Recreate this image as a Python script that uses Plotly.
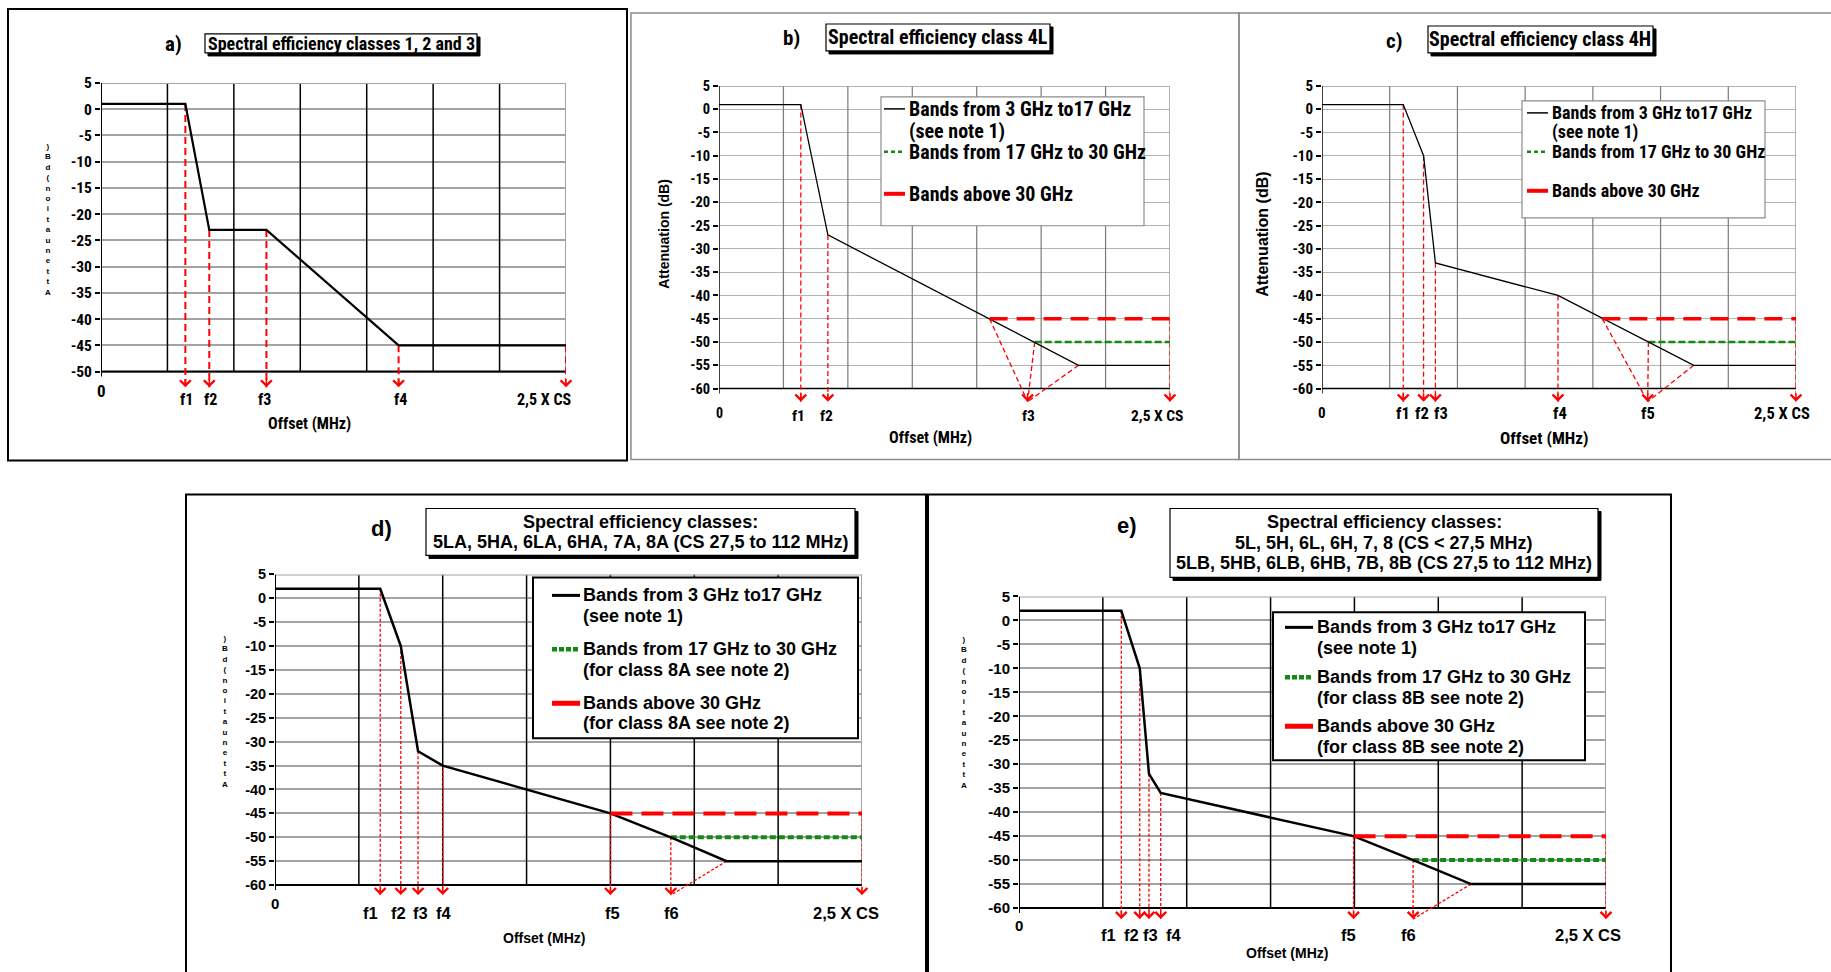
import plotly.graph_objects as go

W, H = 1831, 972
NARROW = "Roboto Condensed, Liberation Sans, sans-serif"
REG = "Liberation Sans, Arial, sans-serif"

# ------------------------------------------------------------------ data
# a) Spectral efficiency classes 1, 2 and 3
a_mask_x = [0, 1.27, 1.63, 2.49, 4.48, 7]
a_mask_y = [1, 1, -23, -23, -45, -45]
a_arrow_x = [1.27, 1.63, 2.49, 4.48, 7]
a_arrow_y = [1, -23, -23, -45, -45]
a_labels = ["f1", "f2", "f3", "f4", "2,5 X CS"]
a_label_x = [1.29, 1.65, 2.46, 4.51, 6.68]
a_yticks = [5, 0, -5, -10, -15, -20, -25, -30, -35, -40, -45, -50]

# b) class 4L
b_mask_x = [0, 1.27, 1.69, 5.58, 7]
b_mask_y = [1, 1, -27, -55, -55]
b_red_x, b_red_y = [4.2, 7], [-45, -45]
b_green_x, b_green_y = [4.9, 7], [-50, -50]
b_arrow_x = [1.27, 1.69, 7]
b_arrow_y = [1, -27, -45]
b_conv_x, b_conv_y, b_conv_tip = [4.2, 4.9, 5.58], [-45, -50, -55], 4.79
b_labels = ["f1", "f2", "f3", "2,5 X CS"]
b_label_x = [1.23, 1.67, 4.81, 6.8]

# c) class 4H
c_mask_x = [0, 1.2, 1.5, 1.675, 3.485, 5.49, 7]
c_mask_y = [1, 1, -10, -33, -40, -55, -55]
c_red_x, c_red_y = [4.14, 7], [-45, -45]
c_green_x, c_green_y = [4.82, 7], [-50, -50]
c_arrow_x = [1.2, 1.5, 1.675, 3.485, 7]
c_arrow_y = [1, -10, -33, -40, -45]
c_conv_x, c_conv_y, c_conv_tip = [4.14, 4.82, 5.49], [-45, -50, -55], 4.81
c_labels = ["f1", "f2", "f3", "f4", "f5", "2,5 X CS"]
c_label_x = [1.19, 1.47, 1.75, 3.51, 4.81, 6.8]

# d) 5LA, 5HA, 6LA, 6HA, 7A, 8A
d_mask_x = [0, 1.255, 1.5, 1.706, 2.0, 4.0, 4.72, 5.385, 7]
d_mask_y = [2, 2, -10, -32, -35, -45, -50, -55, -55]
d_red_x, d_red_y = [4.0, 7], [-45, -45]
d_green_x, d_green_y = [4.72, 7], [-50, -50]
d_arrow_x = [1.255, 1.5, 1.706, 2.0, 4.0, 4.72, 7]
d_arrow_y = [2, -10, -32, -35, -45, -50, -45]
d_conv_x, d_conv_y, d_conv_tip = [5.385], [-55], 4.72
d_labels = ["f1", "f2", "f3", "f4", "f5", "f6", "2,5 X CS"]
d_label_x = [1.14, 1.47, 1.74, 2.01, 4.02, 4.73, 6.81]

# e) 5L ... 8 / 5LB ... 8B
e_mask_x = [0, 1.22, 1.44, 1.55, 1.69, 3.99, 4.70, 5.39, 7]
e_mask_y = [2, 2, -10, -32, -36, -45, -50, -55, -55]
e_red_x, e_red_y = [3.99, 7], [-45, -45]
e_green_x, e_green_y = [4.70, 7], [-50, -50]
e_arrow_x = [1.22, 1.44, 1.55, 1.69, 3.99, 4.70, 7]
e_arrow_y = [2, -10, -32, -36, -45, -50, -45]
e_conv_x, e_conv_y, e_conv_tip = [5.39], [-55], 4.70
e_labels = ["f1", "f2", "f3", "f4", "f5", "f6", "2,5 X CS"]
e_label_x = [1.07, 1.34, 1.57, 1.84, 3.93, 4.64, 6.79]

yticks_60 = [5, 0, -5, -10, -15, -20, -25, -30, -35, -40, -45, -50, -55, -60]

leg_bc = [["Bands from 3 GHz to17 GHz", "(see note 1)"],
          ["Bands from 17 GHz to 30 GHz"],
          ["Bands above 30 GHz"]]
leg_d = [["Bands from 3 GHz to17 GHz", "(see note 1)"],
         ["Bands from 17 GHz to 30 GHz", "(for class 8A see note 2)"],
         ["Bands above 30 GHz", "(for class 8A see note 2)"]]
leg_e = [["Bands from 3 GHz to17 GHz", "(see note 1)"],
         ["Bands from 17 GHz to 30 GHz", "(for class 8B see note 2)"],
         ["Bands above 30 GHz", "(for class 8B see note 2)"]]

YTITLE = "Attenuation (dB)"
XTITLE = "Offset (MHz)"

# ------------------------------------------------------------------ layout helpers
# the photographed page is offset/squeezed vertically by a few pixels: compensate
OFF, SC = 8.0, 972.0 / 964.0


def PY(y):
    return 1 - (y - OFF) * SC / H


def PX(x):
    return x / W


thin = dict(vgrid="#7a7a7a", vgw=1.2, hgrid="#b4b4b4", hgw=1.2, frame="#9a9a9a", fw=1.5,
            spine=1.5, mask=1.3, arr_w=1.3, arr_dash="5px,3px",
            red_w=3.5, red_dash="18px,9px", green_w=2.5, green_dash="7px,3px")
thick = dict(vgrid="black", vgw=1.5, hgrid="#a3a3a3", hgw=2, frame="#a3a3a3", fw=2,
             spine=2, mask=2.5, arr_w=1.3, arr_dash="3px,2px",
             red_w=4, red_dash="22px,9px", green_w=4, green_dash="6px,3px")
style_a = dict(thick, mask=2.2, arr_w=2, arr_dash="7px,4px")

panels = [
    dict(mask=(a_mask_x, a_mask_y), red=None, green=None,
         arrows=(a_arrow_x, a_arrow_y), conv=None,
         labels=(a_labels, a_label_x), yticks=a_yticks, ymin=-50, tip=-53.0,
         geo=dict(l=101, r=566, top=82, bot=371), st=style_a,
         tickfont=(NARROW, 15.5), zerofont=(NARROW, 17), lblfont=(NARROW, 16),
         zero_y=390, lbl_y=399, xt=(309, 423, NARROW, 16)),
    dict(mask=(b_mask_x, b_mask_y), red=(b_red_x, b_red_y), green=(b_green_x, b_green_y),
         arrows=(b_arrow_x, b_arrow_y), conv=(b_conv_x, b_conv_y, b_conv_tip),
         labels=(b_labels, b_label_x), yticks=yticks_60, ymin=-60, tip=-62.8,
         geo=dict(l=719, r=1170, top=85, bot=388), st=thin,
         tickfont=(NARROW, 14.5), zerofont=(NARROW, 14), lblfont=(NARROW, 15.5),
         zero_y=412, lbl_y=415, xt=(930, 437, NARROW, 16)),
    dict(mask=(c_mask_x, c_mask_y), red=(c_red_x, c_red_y), green=(c_green_x, c_green_y),
         arrows=(c_arrow_x, c_arrow_y), conv=(c_conv_x, c_conv_y, c_conv_tip),
         labels=(c_labels, c_label_x), yticks=yticks_60, ymin=-60, tip=-62.8,
         geo=dict(l=1322, r=1796, top=85, bot=388), st=thin,
         tickfont=(NARROW, 15), zerofont=(NARROW, 15), lblfont=(NARROW, 16.5),
         zero_y=412, lbl_y=413, xt=(1544, 437, NARROW, 17)),
    dict(mask=(d_mask_x, d_mask_y), red=(d_red_x, d_red_y), green=(d_green_x, d_green_y),
         arrows=(d_arrow_x, d_arrow_y), conv=(d_conv_x, d_conv_y, d_conv_tip),
         labels=(d_labels, d_label_x), yticks=yticks_60, ymin=-60, tip=-62.1,
         geo=dict(l=275, r=862, top=574, bot=885), st=thick,
         tickfont=(REG, 14.5), zerofont=(REG, 15), lblfont=(REG, 16.5),
         zero_y=903, lbl_y=913, xt=(544, 938, REG, 14)),
    dict(mask=(e_mask_x, e_mask_y), red=(e_red_x, e_red_y), green=(e_green_x, e_green_y),
         arrows=(e_arrow_x, e_arrow_y), conv=(e_conv_x, e_conv_y, e_conv_tip),
         labels=(e_labels, e_label_x), yticks=yticks_60, ymin=-60, tip=-62.3,
         geo=dict(l=1019, r=1606, top=596, bot=908), st=thick,
         tickfont=(REG, 15), zerofont=(REG, 15), lblfont=(REG, 16.5),
         zero_y=925, lbl_y=935, xt=(1287, 953, REG, 14)),
]

fig = go.Figure()
shapes, annotations = [], []
layout = {}


def text(x, y, s, size, family, xanchor="center", yanchor="middle", angle=0):
    annotations.append(dict(xref="paper", yref="paper", x=PX(x), y=PY(y), text=s,
                            showarrow=False, xanchor=xanchor, yanchor=yanchor,
                            textangle=angle, borderpad=0,
                            font=dict(family=family, size=size, color="black", weight="bold")))


def rect(x0, y0, x1, y1, color, width, fill="rgba(0,0,0,0)"):
    shapes.append(dict(type="rect", xref="paper", yref="paper", x0=PX(x0), x1=PX(x1),
                       y0=PY(y1), y1=PY(y0), line=dict(color=color, width=width),
                       fillcolor=fill, layer="above"))


def pline(x0, y0, x1, y1, color, width, dash="solid"):
    shapes.append(dict(type="line", xref="paper", yref="paper", x0=PX(x0), x1=PX(x1),
                       y0=PY(y0), y1=PY(y1),
                       line=dict(color=color, width=width, dash=dash), layer="above"))


# panel frames
rect(8, 8, 627, 460, "black", 2)
rect(631, 12, 1239, 459, "#8c8c8c", 1.5)
rect(1239, 12, 1840, 459, "#8c8c8c", 1.5)
rect(186, 494, 926, 995, "black", 2)
rect(928, 494, 1671, 995, "black", 2)

for i, p in enumerate(panels, start=1):
    sfx = "" if i == 1 else str(i)
    xa, ya = "x" + sfx, "y" + sfx
    g, st, ymin, tip = p["geo"], p["st"], p["ymin"], p["tip"]
    ppu = (g["bot"] - g["top"]) / (5 - ymin)
    rb = tip - 0.4
    dom_bot = g["bot"] + (ymin - rb) * ppu
    layout["xaxis" + sfx] = dict(domain=[PX(g["l"]), PX(g["r"])], range=[0, 7], anchor=ya,
                                 visible=False, fixedrange=True)
    layout["yaxis" + sfx] = dict(domain=[PY(dom_bot), PY(g["top"])], range=[rb, 5],
                                 anchor=xa, tickmode="array", tickvals=p["yticks"],
                                 ticktext=[str(v) for v in p["yticks"]],
                                 showgrid=True, gridcolor=st["hgrid"], gridwidth=st["hgw"],
                                 zeroline=False, showline=False, ticks="outside", ticklen=5,
                                 tickwidth=1.5, tickcolor="black", fixedrange=True,
                                 tickfont=dict(family=p["tickfont"][0], size=p["tickfont"][1],
                                               color="black", weight="bold"))

    def dline(x0, y0, x1, y1, color, width):
        shapes.append(dict(type="line", xref=xa, yref=ya, x0=x0, x1=x1, y0=y0, y1=y1,
                           line=dict(color=color, width=width), layer="between"))

    for k in range(1, 7):
        dline(k, ymin, k, 5, st["vgrid"], st["vgw"])
    dline(7, ymin, 7, 5, st["frame"], st["fw"])
    dline(0, 5, 7, 5, st["frame"], st["fw"])
    dline(0, ymin, 7, ymin, "black", st["spine"])
    dline(0, ymin - 5 / ppu, 0, 5, "black", st["spine"])

    # red dashed guides from the mask break points down past the offset axis
    gx, gy = [], []
    for x, y in zip(*p["arrows"]):
        gx += [x, x, None]
        gy += [y, tip, None]
    heads = list(p["arrows"][0])
    if p["conv"]:
        cxs, cys, ct = p["conv"]
        for x, y in zip(cxs, cys):
            gx += [x, ct, None]
            gy += [y, tip, None]
        if ct not in heads:
            heads.append(ct)
    fig.add_trace(go.Scatter(x=gx, y=gy, mode="lines", xaxis=xa, yaxis=ya, showlegend=False,
                             hoverinfo="skip",
                             line=dict(color="#ff0000", width=st["arr_w"], dash=st["arr_dash"])))
    if p["green"]:
        fig.add_trace(go.Scatter(x=p["green"][0], y=p["green"][1], mode="lines", xaxis=xa,
                                 yaxis=ya, showlegend=False, hoverinfo="skip",
                                 line=dict(color="#138a13", width=st["green_w"],
                                           dash=st["green_dash"])))
    fig.add_trace(go.Scatter(x=p["mask"][0], y=p["mask"][1], mode="lines", xaxis=xa, yaxis=ya,
                             showlegend=False, hoverinfo="skip",
                             line=dict(color="black", width=st["mask"])))
    if p["red"]:
        fig.add_trace(go.Scatter(x=p["red"][0], y=p["red"][1], mode="lines", xaxis=xa,
                                 yaxis=ya, showlegend=False, hoverinfo="skip",
                                 line=dict(color="#ff0000", width=st["red_w"],
                                           dash=st["red_dash"])))
    for x in heads:
        annotations.append(dict(xref=xa, yref=ya, axref=xa, ayref=ya, x=x, y=tip, ax=x,
                                ay=tip + 10 / ppu, text="", showarrow=True, arrowhead=4,
                                arrowsize=1.4, arrowwidth=1.5, arrowcolor="#ff0000",
                                standoff=0, startstandoff=0))
    zf, lf = p["zerofont"], p["lblfont"]
    annotations.append(dict(xref=xa, yref="paper", x=0, y=PY(p["zero_y"]), text="0",
                            showarrow=False, xanchor="center", yanchor="middle",
                            font=dict(family=zf[0], size=zf[1], color="black",
                                      weight="bold")))
    for s, x in zip(*p["labels"]):
        annotations.append(dict(xref=xa, yref="paper", x=x, y=PY(p["lbl_y"]), text=s,
                                showarrow=False, xanchor="center", yanchor="middle",
                                font=dict(family=lf[0], size=lf[1], color="black",
                                          weight="bold")))
    xt = p["xt"]
    text(xt[0], xt[1], XTITLE, xt[3], xt[2])

# y-axis titles: proper rotated ones (b, c) and the letter-stacked ones (a, d, e)
text(664, 233, YTITLE, 14, REG, angle=-90)
text(1263, 234, YTITLE, 16, REG, angle=-90)
stack = "<br>".join(ch for ch in reversed(YTITLE) if ch.strip())
for (xc, yc) in [(48, 219), (225, 711), (964, 712)]:
    text(xc, yc, stack, 8, REG)


def title_box(x0, y0, x1, y1):
    rect(x0 + 3, y0 + 3, x1 + 3, y1 + 3, "black", 1, fill="black")
    rect(x0, y0, x1, y1, "black", 1.2, fill="white")


text(173, 43.5, "a)", 21, NARROW)
title_box(205, 33, 477, 52)
text(341, 42.5, "Spectral efficiency classes 1, 2 and 3", 18, NARROW)

text(791, 37, "b)", 21, NARROW)
title_box(826, 23, 1050, 50)
text(938, 36.5, "Spectral efficiency class 4L", 20, NARROW)

text(1394, 40, "c)", 21, NARROW)
title_box(1428, 25, 1653, 52)
text(1540, 38.5, "Spectral efficiency class 4H", 20, NARROW)

text(381, 528, "d)", 22, REG)
title_box(426, 508, 855, 555)
text(640, 522, "Spectral efficiency classes:", 18, REG)
text(640, 542, "5LA, 5HA, 6LA, 6HA, 7A, 8A (CS 27,5 to 112 MHz)", 18, REG)

text(1127, 525, "e)", 22, REG)
title_box(1170, 508, 1598, 577)
text(1384, 522, "Spectral efficiency classes:", 18, REG)
text(1384, 543, "5L, 5H, 6L, 6H, 7, 8 (CS < 27,5 MHz)", 18, REG)
text(1384, 563, "5LB, 5HB, 6LB, 6HB, 7B, 8B (CS 27,5 to 112 MHz)", 18, REG)


def legend(box, border, sx, tx, font, entries, ys, samples):
    rect(box[0], box[1], box[2], box[3], border[0], border[1], fill="white")
    for lines, yy, smp in zip(entries, ys, samples):
        pline(sx[0], yy[0], sx[1], yy[0], smp[0], smp[1], smp[2])
        for s, y in zip(lines, yy):
            text(tx, y, s, font[1], font[0], xanchor="left")


smp_thin = [("black", 1.5, "solid"), ("#138a13", 2.5, "4px,3px"), ("#ff0000", 4, "solid")]
smp_thick = [("black", 3, "solid"), ("#138a13", 4.5, "5px,2px"), ("#ff0000", 5, "solid")]
legend((881, 96, 1144, 225), ("#8c8c8c", 1.2), (884, 905), 908, (NARROW, 20), leg_bc,
       [[108, 130], [151], [193]], smp_thin)
legend((1522, 100, 1765, 217), ("#8c8c8c", 1.2), (1527, 1548), 1551, (NARROW, 18), leg_bc,
       [[112, 131], [151], [190]], smp_thin)
legend((533, 577, 858, 738), ("black", 2), (552, 580), 582, (REG, 18), leg_d,
       [[595, 616], [649, 670], [703, 723]], smp_thick)
legend((1273, 612, 1585, 760), ("black", 2), (1285, 1313), 1316, (REG, 18), leg_e,
       [[627, 648], [677, 698], [726, 747]], smp_thick)

fig.update_layout(width=W, height=H, autosize=False, margin=dict(l=0, r=0, t=0, b=0),
                  paper_bgcolor="white", plot_bgcolor="white", showlegend=False,
                  shapes=shapes, annotations=annotations, **layout)

fig.write_html("out.html", config={"displayModeBar": False},
               post_script="document.body.style.margin='0';document.body.style.overflow='hidden';")
